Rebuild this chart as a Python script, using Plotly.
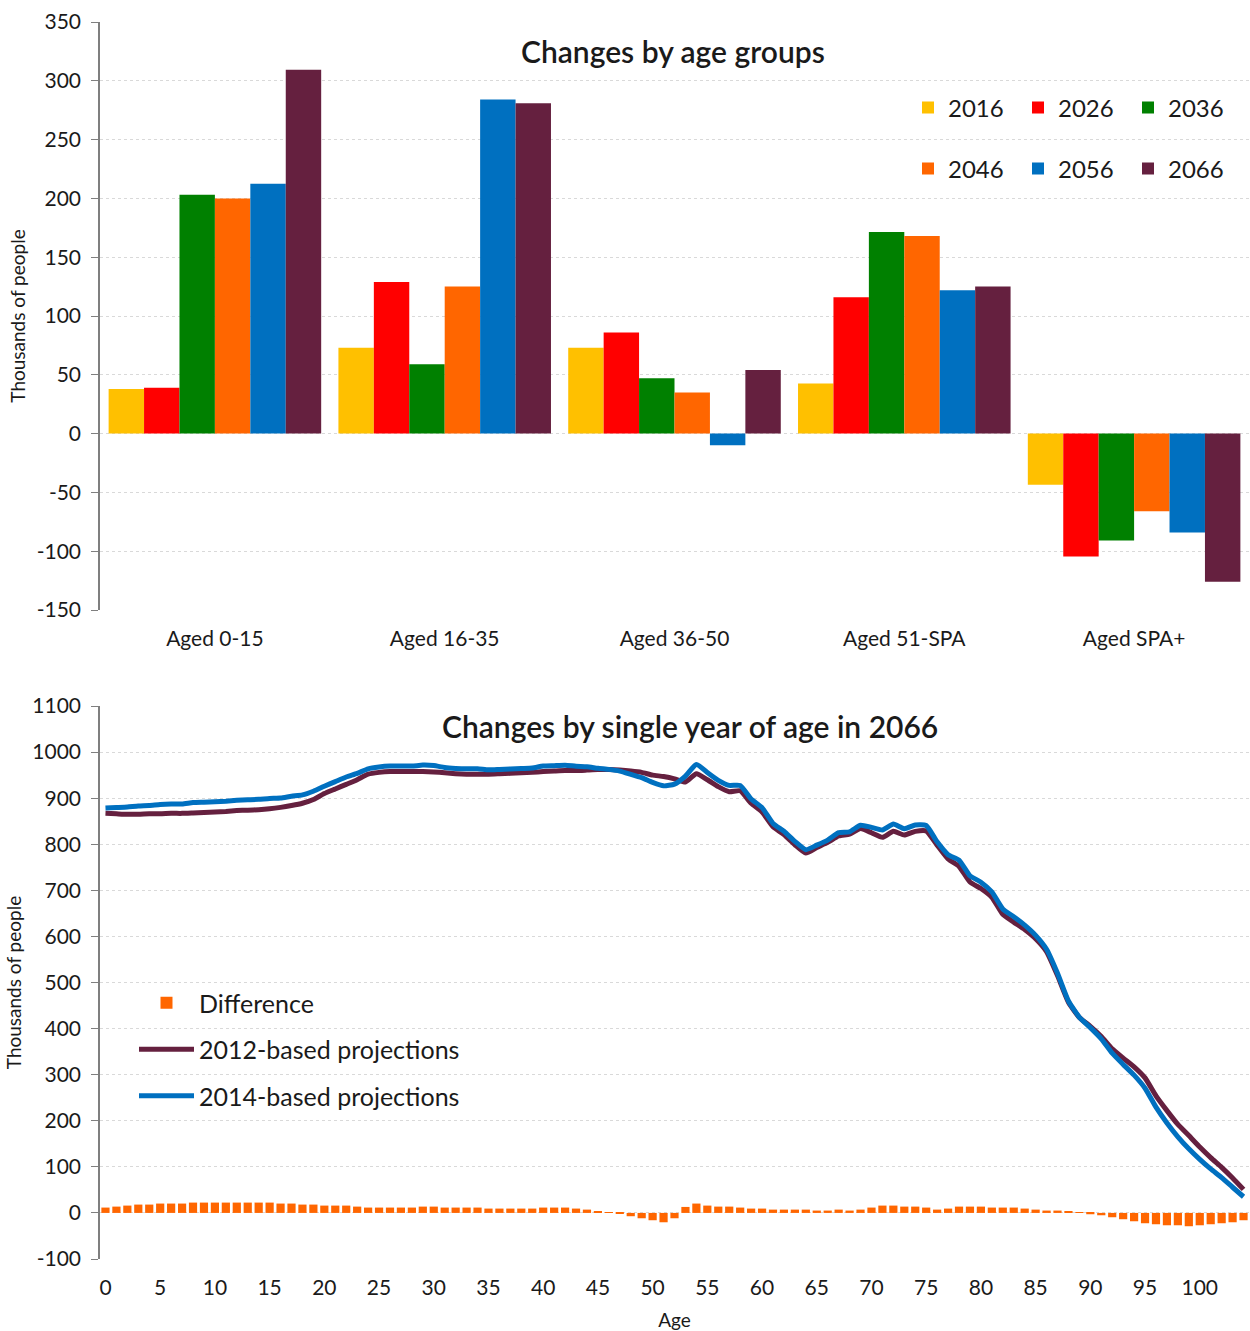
import plotly.graph_objects as go

# ---------------- Top chart data ----------------
age_groups = ["Aged 0-15", "Aged 16-35", "Aged 36-50", "Aged 51-SPA", "Aged SPA+"]
year_labels = ["2016", "2026", "2036", "2046", "2056", "2066"]
v2016 = [38, 73, 73, 42.5, -43.5]
v2026 = [39, 129, 86, 116, -104.5]
v2036 = [203, 59, 47, 171.5, -91]
v2046 = [200, 125, 35, 168, -66]
v2056 = [212.5, 284, -10, 122, -84]
v2066 = [309.5, 281, 54, 125, -126]
year_colors = ["#FFC000", "#FF0000", "#008000", "#FF6600", "#0070C0", "#65203F"]
top_ticks = list(range(-150, 351, 50))

# ---------------- Bottom chart data ----------------
ages = list(range(0, 105))
proj_2012 = [
    867, 866, 865, 865, 866, 866, 867, 867, 868, 869,
    870, 871, 873, 874, 875, 877, 880, 884, 889, 897,
    910, 920, 930, 940, 952, 956, 958, 958, 958, 958,
    957, 955, 953, 952, 952, 952, 953, 954, 955, 956,
    958, 959, 960, 960, 961, 962, 962, 961, 959, 956,
    950, 947, 942, 935, 953, 940, 925, 914, 916, 889,
    870, 838, 821, 799, 781, 793, 804, 818, 822, 834,
    825, 815, 828, 820, 828, 829, 798, 768, 752, 718,
    704, 685, 648, 631, 615, 595, 567, 515, 457, 424,
    405, 383, 356, 336, 317, 293, 254, 222, 192, 168,
    143, 120, 99, 76, 51,
]
difference = [
    11.6, 13.7, 15.9, 18.1, 18.1, 20.3, 20.3, 20.3, 22.4, 22.4,
    22.4, 22.4, 22.4, 22.4, 22.4, 22.4, 20.3, 20.3, 18.1, 18.1,
    15.9, 15.9, 15.9, 13.7, 11.6, 11.6, 11.6, 11.6, 11.6, 13.7,
    13.7, 11.6, 11.6, 11.6, 11.6, 9.4, 9.4, 9.4, 9.4, 9.4,
    11.6, 11.6, 11.6, 9.4, 7.2, 2.9, 0.5, -2.2, -7.2, -11.6,
    -15.9, -20.3, -11.6, 13.0, 20.3, 15.9, 13.7, 13.7, 11.6, 9.4,
    9.4, 7.2, 7.2, 7.2, 7.2, 5.1, 5.1, 7.2, 5.1, 7.2,
    11.6, 15.9, 15.9, 13.7, 13.7, 11.6, 7.2, 9.4, 13.7, 13.7,
    13.7, 11.6, 11.6, 11.6, 9.4, 7.2, 5.1, 5.1, 2.9, 0.5,
    -2.9, -5.1, -9.4, -13.7, -18.1, -22.4, -24.6, -26.8, -26.8, -28.9,
    -26.8, -24.6, -22.4, -20.3, -15.9,
]
# 2014-based projection = 2012-based projection + difference
proj_2014 = [a + d for a, d in zip(proj_2012, difference)]
age_ticks = list(range(0, 101, 5))
bottom_ticks = list(range(-100, 1101, 100))

FONT = "Lato"
TXT = "#1a1a1a"
AXC = "#7f7f7f"
GRID = "#d9d9d9"

fig = go.Figure()

series = [v2016, v2026, v2036, v2046, v2056, v2066]
for i, (lab, vals, col) in enumerate(zip(year_labels, series, year_colors)):
    fig.add_trace(go.Bar(
        x=age_groups, y=vals, name=lab, marker_color=col,
        marker_line_width=0, xaxis="x", yaxis="y",
        legend="legend" if i < 3 else "legend2",
    ))

fig.add_trace(go.Bar(
    x=ages, y=difference, name="Difference", marker_color="#FF6600",
    marker_line_width=0, width=0.75, xaxis="x2", yaxis="y2",
    legend="legend3", legendgroup="g1",
))
fig.add_trace(go.Scatter(
    x=ages, y=proj_2012, name="2012-based projections", mode="lines",
    line=dict(color="#65203F", width=5, shape="spline", smoothing=0.5),
    xaxis="x2", yaxis="y2", legend="legend3", legendgroup="g2",
))
fig.add_trace(go.Scatter(
    x=ages, y=proj_2014, name="2014-based projections", mode="lines",
    line=dict(color="#0070C0", width=5, shape="spline", smoothing=0.5),
    xaxis="x2", yaxis="y2", legend="legend3", legendgroup="g3",
))

H = 1331.0
top_dom = [1 - 610 / H, 1 - 22 / H]
bot_dom = [1 - 1259 / H, 1 - 706 / H]
top_zero = top_dom[0] + (0 - (-150)) / 500 * (top_dom[1] - top_dom[0])
bot_zero = bot_dom[0] + (0 - (-100)) / 1200 * (bot_dom[1] - bot_dom[0])

yax_common = dict(
    showline=True, linecolor=AXC, linewidth=1.5, ticks="outside", ticklen=7,
    tickcolor=AXC, showgrid=True, gridcolor=GRID, griddash="dot", gridwidth=1,
    zeroline=False, tickfont=dict(family=FONT, size=21, color=TXT),
    ticklabelstandoff=6,
    title=dict(text="Thousands of people", font=dict(family=FONT, size=19, color=TXT), standoff=6),
    automargin=False,
)

fig.update_layout(
    width=1250, height=1331,
    margin=dict(l=100, r=1, t=0, b=0),
    paper_bgcolor="white", plot_bgcolor="white",
    barmode="group", bargap=0.075, bargroupgap=0,
    font=dict(family=FONT, color=TXT),
    xaxis=dict(
        domain=[0, 1], anchor="y", type="category", showline=False, ticks="",
        showgrid=False, zeroline=False, ticklabelstandoff=14,
        tickfont=dict(family=FONT, size=21, color=TXT), automargin=False,
    ),
    yaxis=dict(domain=top_dom, anchor="x", range=[-150, 350],
               tickvals=top_ticks, ticktext=[str(v) for v in top_ticks], **yax_common),
    xaxis2=dict(
        domain=[0, 1], anchor="y2", type="linear", range=[-0.5, 104.5],
        tickvals=age_ticks, ticktext=[str(a) for a in age_ticks],
        showline=False, ticks="", showgrid=False, zeroline=False, ticklabelstandoff=14,
        tickfont=dict(family=FONT, size=21, color=TXT),
        title=dict(text="Age", font=dict(family=FONT, size=19, color=TXT), standoff=16),
        automargin=False,
    ),
    yaxis2=dict(domain=bot_dom, anchor="x2", range=[-100, 1100],
                tickvals=bottom_ticks, ticktext=[str(v) for v in bottom_ticks], **yax_common),
    # zero-line axes carrying the category boundary tick marks
    xaxis3=dict(
        overlaying="x", anchor="free", position=top_zero, type="linear",
        range=[-0.5, 4.5], tickvals=[0.5, 1.5, 2.5, 3.5], ticks="outside", ticklen=6,
        tickcolor="#595959", showticklabels=False, showline=True, linecolor="#595959",
        linewidth=1.5, showgrid=False, zeroline=False,
    ),
    xaxis4=dict(
        overlaying="x2", anchor="free", position=bot_zero, type="linear",
        range=[-0.5, 104.5], tickvals=[t - 0.5 for t in age_ticks] + [104.5],
        ticks="outside", ticklen=6, tickcolor="#595959", showticklabels=False,
        showline=True, linecolor="#595959", linewidth=1.5, showgrid=False, zeroline=False,
    ),
    legend=dict(
        orientation="h", x=(908 - 100) / 1149, y=1 - 108 / H, xanchor="left", yanchor="middle",
        bgcolor="rgba(0,0,0,0)", font=dict(family=FONT, size=24, color=TXT),
        entrywidth=65, entrywidthmode="pixels", itemwidth=30,
    ),
    legend2=dict(
        orientation="h", x=(908 - 100) / 1149, y=1 - 169 / H, xanchor="left", yanchor="middle",
        bgcolor="rgba(0,0,0,0)", font=dict(family=FONT, size=24, color=TXT),
        entrywidth=65, entrywidthmode="pixels", itemwidth=30,
    ),
    legend3=dict(
        orientation="v", x=(134 - 100) / 1149, y=1 - 980 / H, xanchor="left", yanchor="top",
        bgcolor="rgba(0,0,0,0)", font=dict(family=FONT, size=25, color=TXT),
        tracegroupgap=11, itemwidth=55,
    ),
    annotations=[
        dict(text="Changes by age groups", xref="paper", yref="paper",
             x=(673 - 100) / 1149, y=1 - 51 / H, xanchor="center", yanchor="middle",
             showarrow=False, font=dict(family=FONT, size=30, color=TXT, weight=600)),
        dict(text="Changes by single year of age in 2066", xref="paper", yref="paper",
             x=(690 - 100) / 1149, y=1 - 726 / H, xanchor="center", yanchor="middle",
             showarrow=False, font=dict(family=FONT, size=30, color=TXT, weight=600)),
    ],
)

fig.write_html("out.html", config={"displayModeBar": False},
               post_script="document.body.style.margin='0px';")
